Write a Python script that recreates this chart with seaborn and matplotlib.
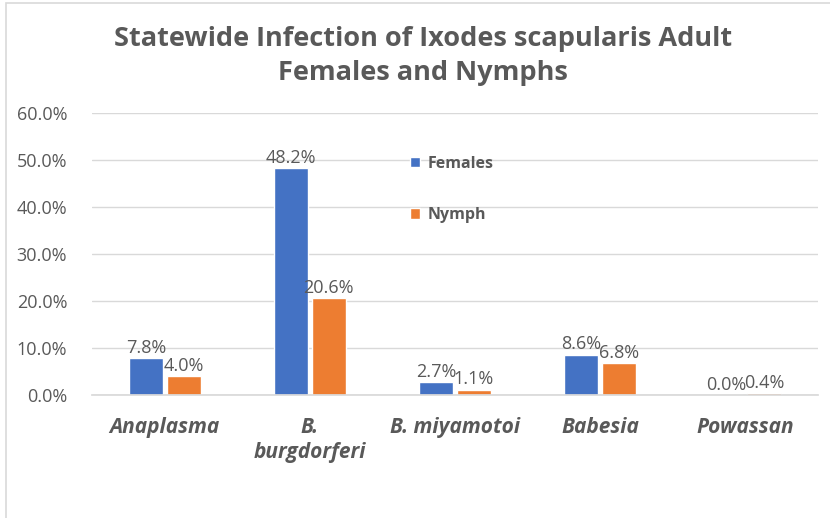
import matplotlib
matplotlib.use("Agg")
import matplotlib.pyplot as plt
import seaborn as sns
import pandas as pd
from matplotlib.patches import Rectangle

categories = ["Anaplasma", "B.\nburgdorferi", "B. miyamotoi", "Babesia", "Powassan"]
females = [7.8, 48.2, 2.7, 8.6, 0.0]
nymph = [4.0, 20.6, 1.1, 6.8, 0.4]
series = ["Females", "Nymph"]
yticks = [0, 10, 20, 30, 40, 50, 60]

df = pd.DataFrame({
    "cat": categories * 2,
    "val": females + nymph,
    "series": [series[0]] * len(categories) + [series[1]] * len(categories),
})

sns.set_theme(style="white")
plt.rcParams['font.family'] = ['Open Sans', 'DejaVu Sans']
grey = "#595959"

fig = plt.figure(figsize=(8.3, 5.18), dpi=100)
ax = fig.add_axes([0.111, 0.2375, 0.874, 0.5445])

sns.barplot(data=df, x="cat", y="val", hue="series", order=categories,
            palette=["#4472C4", "#ED7D31"], width=0.52, gap=0.1,
            ax=ax, errorbar=None, saturation=1)

for cont in ax.containers:
    ax.bar_label(cont, fmt="%.1f%%", padding=1, fontsize=13, color=grey)

ax.set_ylim(0, 60)
ax.set_yticks(yticks)
ax.set_yticklabels([f"{v:.1f}%" for v in yticks], fontsize=13, color=grey)
ax.yaxis.grid(True, color="#D9D9D9", linewidth=1)
ax.set_axisbelow(True)
for s in ["top", "right", "left"]:
    ax.spines[s].set_visible(False)
ax.spines["bottom"].set_color("#D9D9D9")
ax.tick_params(axis="y", length=0, pad=18)
ax.tick_params(axis="x", length=0, pad=16)
for lab in ax.get_xticklabels():
    lab.set_fontsize(15)
    lab.set_fontweight("bold")
    lab.set_fontstyle("italic")
    lab.set_color(grey)
    lab.set_linespacing(1.25)
ax.set_xlabel("")
ax.set_ylabel("")

ax.legend(loc="upper left", bbox_to_anchor=(0.43, 0.87), frameon=False,
          prop={"size": 11.5, "weight": "bold"}, labelcolor=grey,
          handlelength=0.6, handleheight=0.6,
          labelspacing=2.2, handletextpad=0.5, borderaxespad=0)

fig.text(0.51, 0.925, "Statewide Infection of Ixodes scapularis Adult",
         ha="center", va="center", fontsize=19.5, fontweight="bold", color=grey)
fig.text(0.51, 0.859, "Females and Nymphs",
         ha="center", va="center", fontsize=19.5, fontweight="bold", color=grey)

fig.patches.append(Rectangle((6 / 830, -0.1), 1.2, 1 - 3 / 518 + 0.1,
                             transform=fig.transFigure, fill=False,
                             edgecolor="#D9D9D9", linewidth=1.2))

fig.savefig("out.png", dpi=100)
